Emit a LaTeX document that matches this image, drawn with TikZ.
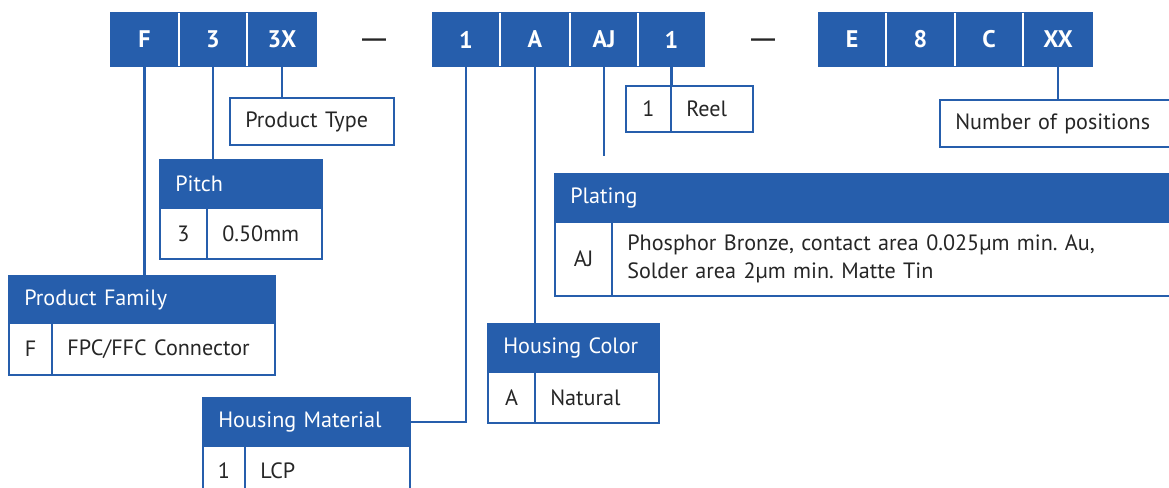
\documentclass[tikz,border=0pt]{standalone}
\usepackage{fontspec}
\setmainfont{PT Sans}
\newfontfamily\dashfont{Liberation Sans}
\frenchspacing
\definecolor{cblue}{HTML}{265EAC}
\newcommand\bxc[7]{%
  \pgfmathsetmacro\bcx{(#2+#4)/2}\pgfmathsetmacro\bcy{(#3+#5)/2}%
  \pgfmathsetmacro\bww{(#4-#2)*0.75}\pgfmathsetmacro\bhh{(#5-#3)*0.75}%
  \node[#6, minimum width=\bww pt, minimum height=\bhh pt, inner sep=0pt, align=center] (#1) at (\bcx,\bcy) {#7};}
\newcommand\bxl[7]{%
  \pgfmathsetmacro\bcx{(#2+#4)/2}\pgfmathsetmacro\bcy{(#3+#5)/2}%
  \pgfmathsetmacro\bww{(#4-#2)*0.75}\pgfmathsetmacro\bhh{(#5-#3)*0.75}%
  \pgfmathsetmacro\btw{(#4-#2)*0.75-23}%
  \node[#6, minimum width=\bww pt, minimum height=\bhh pt, inner ysep=0pt, inner xsep=11.5pt, text width=\btw pt, align=left] (#1) at (\bcx,\bcy) {#7};}
\begin{document}
\begin{tikzpicture}[x=0.75pt,y=-0.75pt,
  txt/.style={font=\fontsize{16.6}{21}\selectfont},
  code/.style={fill=cblue, text=white, font=\bfseries\fontsize{18}{20}\selectfont},
  hdr/.style={fill=cblue, draw=cblue, line width=1.5pt, text=white, txt},
  cell/.style={fill=white, draw=cblue, line width=1.5pt, text=black!85, txt},
  conn/.style={draw=cblue, line width=1.8pt},
  divline/.style={draw=white, line width=1.5pt, shorten <=1pt, shorten >=1pt},
  dashtxt/.style={font=\dashfont\bfseries\fontsize{18}{20}\selectfont, text=black!85, inner sep=0pt}]
\useasboundingbox (0,0) rectangle (1169,488);
% code cells
\bxc{cF}{110}{12}{179}{67}{code}{F}
\bxc{c3}{179}{12}{247}{67}{code}{3}
\bxc{c3x}{247}{12}{317}{67}{code}{3X}
\bxc{g1}{432}{12}{500}{67}{code}{1}
\bxc{gA}{500}{12}{570}{67}{code}{A}
\bxc{gAJ}{570}{12}{638}{67}{code}{AJ}
\bxc{gOne}{638}{12}{705}{67}{code}{1}
\bxc{gE}{818}{12}{886}{67}{code}{E}
\bxc{gEight}{886}{12}{955}{67}{code}{8}
\bxc{gC}{955}{12}{1023}{67}{code}{C}
\bxc{gXX}{1023}{12}{1093}{67}{code}{XX}
\foreach \a in {cF,c3,g1,gA,gAJ,gE,gEight,gC}
  \draw[divline] (\a.north east) -- (\a.south east);
\node[dashtxt] (d1) at (374,43) {—};
\node[dashtxt] (d2) at (763,43) {—};
\coordinate (ajend) at (604,156);
% boxes
\bxl{pt}{230}{98}{394}{145}{cell}{Product Type}
\bxl{pih}{160}{160}{322}{208}{hdr}{Pitch}
\bxc{pik}{160}{208}{207}{259}{cell}{3}
\bxl{piv}{207}{208}{322}{259}{cell}{0.50mm}
\bxl{pfh}{9}{276}{275}{323}{hdr}{Product Family}
\bxc{pfk}{9}{323}{52}{375}{cell}{F}
\bxl{pfv}{52}{323}{275}{375}{cell}{FPC/FFC Connector}
\bxl{hmh}{203}{398}{410}{446}{hdr}{Housing Material}
\bxc{hmk}{203}{446}{245}{495}{cell}{1}
\bxl{hmv}{245}{446}{410}{495}{cell}{LCP}
\bxl{hch}{488}{324}{659}{372}{hdr}{Housing Color}
\bxc{hck}{488}{372}{535}{423}{cell}{A}
\bxl{hcv}{535}{372}{659}{423}{cell}{Natural}
\bxl{plh}{555}{174}{1173}{222}{hdr}{Plating}
\bxc{plk}{555}{222}{612}{296}{cell}{AJ}
\bxl{plv}{612}{222}{1173}{296}{cell}{Phosphor Bronze, contact area 0.025µm min. Au,\\Solder area 2µm min. Matte Tin}
\bxc{rk}{626}{86}{671}{132}{cell}{1}
\bxl{rv}{671}{86}{753}{132}{cell}{Reel}
\bxl{np}{940}{100}{1173}{147}{cell}{Number of positions}
% connectors
\draw[conn] (cF.south) -- (cF.south |- pfh.north);
\draw[conn] (c3.south) -- (c3.south |- pih.north);
\draw[conn] (c3x.south) -- (c3x.south |- pt.north);
\draw[conn] (g1.south) |- (hmh.east);
\draw[conn] (gA.south) -- (gA.south |- hch.north);
\draw[conn] (gAJ.south) -- (ajend);
\draw[conn] (gOne.south) -- (gOne.south |- rk.north);
\draw[conn] (gXX.south) -- (gXX.south |- np.north);
\end{tikzpicture}
\end{document}
